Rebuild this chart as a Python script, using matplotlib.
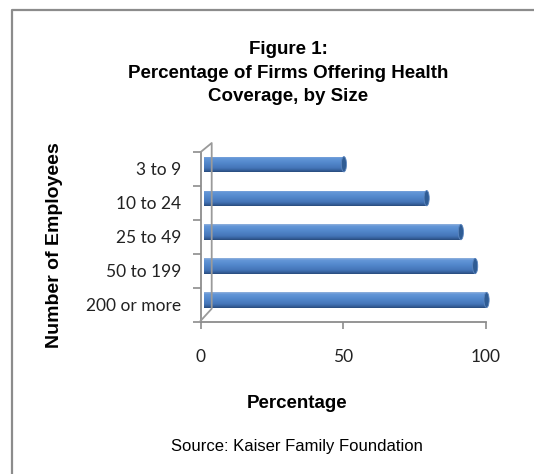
import numpy as np
import matplotlib
matplotlib.use("Agg")
import matplotlib.pyplot as plt
from matplotlib.patches import Ellipse
from matplotlib.lines import Line2D
from matplotlib.transforms import offset_copy

categories = ["3 to 9", "10 to 24", "25 to 49", "50 to 199", "200 or more"]
values = [49, 78, 90, 95, 99]
x_ticks = [0, 50, 100]
title = "Figure 1:\nPercentage of Firms Offering Health\nCoverage, by Size"
xlabel = "Percentage"
ylabel = "Number of Employees"
source = "Source: Kaiser Family Foundation"

W, H = 534, 474
fig = plt.figure(figsize=(W / 100, H / 100), dpi=100)
fig.patch.set_facecolor("white")

# outer frame (only left and top edges visible)
fig.lines.append(Line2D([12 / W, 12 / W, 1.0], [0.0, 1 - 10 / H, 1 - 10 / H],
                        transform=fig.transFigure, color="#8c8c8c",
                        linewidth=1.6))

ax = fig.add_axes([200.7 / W, (H - 321.7) / H, (486 - 200.7) / W, (321.7 - 152) / H])
ax.set_facecolor("none")
n = len(categories)

# gradient cylinder-like bars
grad = np.linspace(0, 1, 64).reshape(-1, 1)
cmap = matplotlib.colors.LinearSegmentedColormap.from_list(
    "cyl", [(0, "#93B2DC"), (0.12, "#6497D8"), (0.4, "#5489CD"),
            (0.75, "#4475B8"), (0.9, "#355F9A"), (1.0, "#284B7C")])
bar_h = 0.45
shift = -0.14
bars = ax.barh(np.arange(n) + shift, values, height=bar_h, color="#4F81BD",
               left=1.2, edgecolor="none", zorder=2)
for b in bars:
    b.set_clip_on(False)
    x0, y0 = b.get_x(), b.get_y()
    w, h = b.get_width(), b.get_height()
    im = ax.imshow(grad, extent=[x0, x0 + w, y0 + h, y0], aspect="auto",
                   cmap=cmap, zorder=3, interpolation="bilinear")
    im.set_clip_box(None)
    im.set_clip_path(b)
    cap = Ellipse((x0 + w, y0 + h / 2), 1.8, h, facecolor="#2F5C94",
                  edgecolor="#5C86BF", linewidth=0.6, zorder=4, clip_on=False)
    ax.add_patch(cap)
ax.set_xlim(0, 100)
ax.set_ylim(n - 0.5, -0.5)

# spines
for s in ["top", "right"]:
    ax.spines[s].set_visible(False)
for s in ["left", "bottom"]:
    ax.spines[s].set_color("#8c8c8c")
    ax.spines[s].set_linewidth(1.3)

# 3D back wall lines
wall_col = "#9a9a9a"
pts = [(0, 1, 0, 0), (0, 1, 11, 9), (0, 0, 11, 13), (0, 0, 0, 1)]
disp = np.array([offset_copy(ax.transAxes, fig=fig, x=dx, y=dy, units="dots").transform((x, y))
                 for x, y, dx, dy in pts])
fig_xy = fig.transFigure.inverted().transform(disp)
fig.lines.append(Line2D(fig_xy[:, 0], fig_xy[:, 1], transform=fig.transFigure,
                        color=wall_col, linewidth=1.3))

# ticks
ax.set_xticks(x_ticks)
ax.set_xticklabels([str(t) for t in x_ticks])
ax.set_yticks(np.arange(n))
ax.set_yticklabels(categories)
ax.set_yticks(np.arange(n + 1) - 0.5, minor=True)
ax.tick_params(axis="y", which="major", length=0, pad=14, labelsize=12.5,
               labelcolor="#222222")
ax.tick_params(axis="y", which="minor", length=6, width=1.2, color="#8c8c8c")
ax.tick_params(axis="x", which="major", length=5, width=1.2, color="#8c8c8c",
               pad=15, labelsize=12.5, labelcolor="#222222")
for lab in ax.get_xticklabels() + ax.get_yticklabels():
    lab.set_fontfamily("Lato")

fig.text(288 / W, 1 - 73 / H, title, ha="center", va="center",
         fontsize=13.5, fontweight="bold", family="Liberation Sans",
         linespacing=1.5)
fig.text(55 / W, 1 - 245 / H, ylabel, ha="center", va="center", rotation=90,
         fontsize=14, fontweight="bold", family="Liberation Sans")
fig.text(297 / W, 1 - 403 / H, xlabel, ha="center", va="center",
         fontsize=13.5, fontweight="bold", family="Liberation Sans")
fig.text(297 / W, 1 - 447 / H, source, ha="center", va="center",
         fontsize=12, family="Liberation Sans")

fig.savefig("out.png", dpi=100)
